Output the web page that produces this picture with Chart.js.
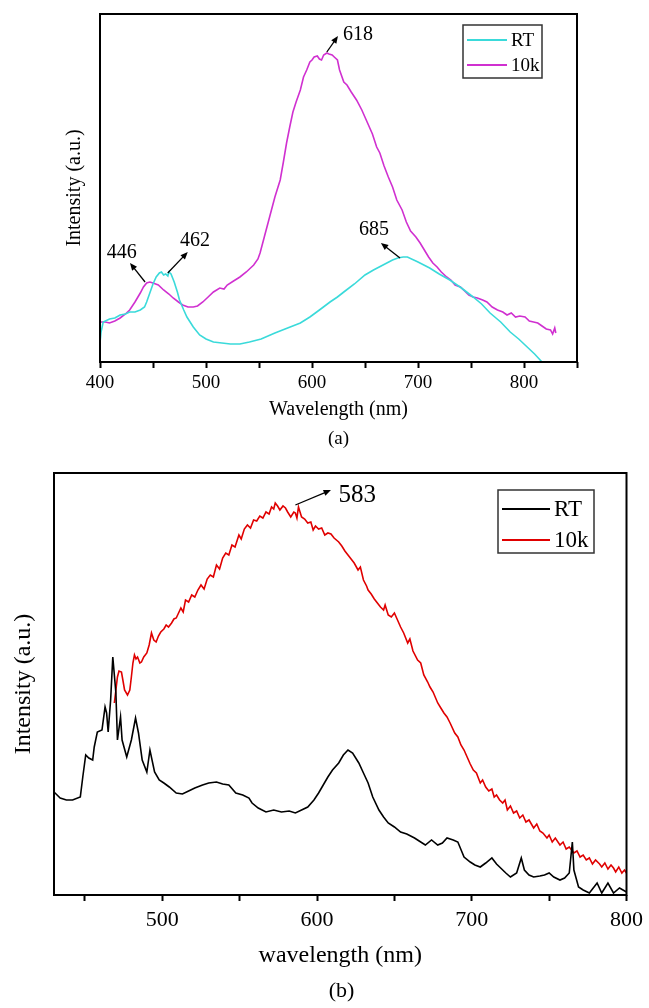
<!DOCTYPE html>
<html>
<head>
<meta charset="utf-8">
<script src="https://cdn.jsdelivr.net/npm/chart.js@4.4.0/dist/chart.umd.min.js"></script>
<style>
  html, body { margin: 0; padding: 0; background: #fff; }
  body { width: 649px; height: 1008px; position: relative; overflow: hidden; font-family: "Liberation Serif", "DejaVu Serif", serif; color: #000; }
  canvas { position: absolute; left: 0; }
  #chartA { top: 0; }
  #chartB { top: 450px; }
  .cap { position: absolute; left: 0; width: 100%; text-align: center; line-height: 1; }
  #capA { top: 428px; font-size: 19px; padding-left: 28px; box-sizing: border-box; }
  #capB { top: 979px; font-size: 22px; padding-left: 34px; box-sizing: border-box; }
</style>
</head>
<body>
<canvas id="chartA" width="649" height="450"></canvas>
<canvas id="chartB" width="649" height="558"></canvas>
<div class="cap" id="capA">(a)</div>
<div class="cap" id="capB">(b)</div>

<script>
// ---- panel (a) data : wavelength (nm) / intensity (a.u.) ----
const waveA_RT = [400, 401, 403, 409, 414, 419, 424, 428, 433, 438, 442, 444, 447, 450, 453, 456, 458, 460, 462, 464, 465, 467, 470, 473, 475, 479, 482, 488, 494, 500, 507, 515, 523, 532, 541, 552, 565, 577, 589, 598, 607, 617, 624, 630, 640, 650, 658, 667, 676, 681, 686, 690, 700, 711, 720, 730, 741, 752, 760, 768, 778, 787, 795, 803, 810, 817];
const intA_RT  = [19, 30, 40, 43, 44, 47, 48, 50, 50, 52, 55, 60, 69, 78, 85, 89, 90, 87, 88, 86, 90, 88, 80, 70, 62, 52, 45, 35, 27, 23, 20, 19, 18, 18, 20, 23, 29, 34, 39, 45, 52, 60, 65, 70, 78, 87, 92, 97, 102, 104, 105, 105, 100, 94, 88, 82, 74, 65, 58, 49, 40, 30, 23, 15, 8, 0];

const waveA_10k = [400, 405, 409, 414, 419, 424, 428, 433, 438, 441, 444, 447, 450, 455, 460, 465, 469, 474, 478, 483, 488, 492, 497, 502, 507, 513, 517, 520, 526, 532, 538, 545, 549, 551, 555, 560, 565, 570, 573, 576, 579, 582, 585, 589, 592, 595, 598, 600, 602, 605, 607, 609, 611, 614, 616, 619, 621, 624, 626, 630, 633, 637, 642, 647, 652, 657, 661, 664, 668, 672, 676, 680, 685, 689, 693, 698, 702, 706, 710, 714, 718, 722, 727, 731, 735, 740, 744, 748, 752, 756, 761, 765, 770, 775, 780, 784, 788, 792, 796, 801, 805, 809, 813, 817, 821, 825, 827, 829, 830];
const intA_10k  = [40, 40, 39, 41, 44, 48, 52, 60, 69, 75, 79, 80, 79, 77, 72, 68, 64, 60, 57, 55, 55, 56, 60, 65, 70, 74, 73, 77, 81, 85, 90, 97, 103, 109, 125, 145, 165, 182, 200, 219, 235, 250, 260, 272, 285, 292, 300, 302, 305, 306, 303, 302, 307, 309, 308, 307, 305, 302, 292, 280, 277, 270, 262, 252, 240, 228, 215, 209, 196, 185, 175, 162, 152, 140, 131, 125, 119, 112, 105, 99, 95, 90, 85, 82, 77, 75, 71, 67, 65, 64, 62, 60, 55, 52, 50, 47, 49, 45, 46, 45, 41, 40, 39, 36, 33, 32, 28, 34, 29];

const ticksA  = [400, 450, 500, 550, 600, 650, 700, 750, 800, 850];
const labelsA = [400, 500, 600, 700, 800];

// ---- panel (b) data ----
const waveB_RT = [430, 434, 438, 442, 447, 448.6, 450.5, 452.5, 455, 456, 458, 461, 463, 464, 465, 466.6, 468, 470, 471, 473, 474, 477, 480, 482.7, 484.6, 487, 490, 492, 495, 498, 501, 504.5, 509, 513, 517, 521, 526, 530, 535, 539, 543, 547.5, 552, 556, 558, 562, 567, 572, 577, 582, 586, 590, 594, 598, 601, 604, 607, 610, 614, 617, 620, 623, 627, 630, 633, 636, 640, 643, 646, 650, 654, 658, 663, 666, 670, 674, 678, 681, 684, 688, 691, 695, 699, 702, 705.5, 709, 713, 716, 718, 722, 725, 729, 732, 734, 737, 740, 744, 747, 750, 753, 757, 760, 763, 765, 766, 769, 772, 776, 781, 784, 788, 791.6, 795.5, 800];
const intB_RT  = [103, 97, 95, 95, 98, 118, 140, 137, 135, 148, 163, 165, 188, 182, 163, 195, 238, 202, 155, 178, 155, 138, 155, 177, 162, 135, 123, 145, 123, 115, 112, 108, 102, 101, 104, 107, 110, 112, 113, 111, 110, 102, 100, 97, 92, 87, 83, 85, 83, 84, 82, 85, 88, 95, 102, 110, 118, 125, 132, 140, 145, 142, 132, 122, 112, 98, 85, 78, 72, 68, 63, 61, 57, 54, 50, 55, 50, 52, 57, 55, 53, 38, 33, 30, 28, 32, 37, 31, 28, 22, 18, 22, 37, 25, 20, 18, 19, 20, 22, 18, 15, 17, 22, 53, 25, 8, 5, 2, 12, 2, 12, 2, 7, 3];

const waveB_10k = [469, 470, 471, 472, 473.6, 474.5, 475.6, 477.5, 479, 480, 481, 482, 483, 484, 485.5, 486.5, 488, 490, 491.5, 493, 494.5, 496, 497.5, 499, 501, 502.5, 504, 506, 507.5, 509, 510.5, 512, 513.5, 515, 517, 519, 521, 523, 525, 527, 529, 531, 533, 535, 537, 539, 541, 543, 545, 547, 549.5, 551, 553, 555, 557, 559, 561, 563, 565, 567, 569, 570.6, 572, 573, 574.5, 576, 578, 579.6, 581, 583, 585, 586, 587, 588, 589, 590, 592, 594, 596, 597.5, 599, 601, 603, 605, 607, 609, 611, 614, 616, 618, 620, 622, 624, 626.5, 628, 630, 632, 633, 635, 637, 639, 641, 643, 644, 646, 648, 650, 652, 654, 656, 658.6, 660, 662, 665, 667, 669, 671.5, 673, 675, 678, 680, 682, 684, 686, 689, 691, 693, 695, 697, 699, 701, 703, 705.5, 707, 709, 711, 713, 714.5, 716, 718, 720, 721.5, 723, 725, 727, 729, 731, 733, 735, 737, 740, 742, 744, 746, 748.6, 750, 752, 754, 757, 759, 761, 763, 766, 768, 770, 772, 774, 776, 778, 780, 782.6, 784, 786, 788, 790, 791.6, 793, 795, 797, 798.7, 800];
const intB_10k  = [192, 205, 218, 224, 223, 215, 205, 200, 205, 218, 232, 240, 236, 238, 232, 233, 238, 242, 250, 262, 255, 253, 259, 263, 266, 270, 268, 272, 276, 277, 282, 287, 283, 295, 293, 300, 298, 305, 310, 306, 316, 320, 318, 330, 326, 337, 342, 340, 350, 348, 360, 356, 366, 370, 367, 375, 374, 379, 377, 383, 381, 388, 386, 392, 389, 385, 389, 387, 383, 378, 383, 382, 377, 388, 383, 378, 376, 372, 373, 365, 369, 366, 367, 360, 362, 361, 357, 353, 349, 344, 340, 336, 332, 325, 328, 315, 309, 305, 301, 296, 292, 288, 285, 290, 280, 278, 282, 275, 268, 262, 252, 256, 244, 235, 232, 220, 213, 208, 203, 192, 187, 182, 178, 172, 162, 158, 150, 145, 138, 131, 125, 122, 112, 115, 108, 104, 106, 98, 100, 95, 92, 95, 85, 89, 82, 84, 77, 80, 73, 75, 67, 71, 64, 62, 57, 60, 53, 57, 50, 53, 46, 48, 42, 44, 38, 40, 35, 37, 31, 35, 31, 28, 32, 26, 30, 27, 23, 28, 22, 25, 22];

const ticksB  = [450, 500, 550, 600, 650, 700, 750, 800];
const labelsB = [500, 600, 700, 800];

// peak labels: text, text position, arrow tail -> head (data units)
const peaksA = [
    { text: '446', tx: 420.5, ty: 109, x1: 442.5, y1: 80, x2: 428.3, y2: 99 },
    { text: '462', tx: 489.6, ty: 121, x1: 463.9, y1: 89, x2: 482.8, y2: 110 },
    { text: '618', tx: 643.4, ty: 327, x1: 614, y1: 310, x2: 624.5, y2: 326 },
    { text: '685', tx: 658.5, ty: 132, x1: 683, y1: 104, x2: 665, y2: 119 }
];
const peaksB = [
    { text: '583', tx: 626, ty: 400, x1: 586, y1: 390, x2: 609, y2: 405 }
];

const toPoints = (xs, ys) => xs.map((x, i) => ({ x: x, y: ys[i] }));

// frame, legend and peak arrows
const figureDecor = {
    id: 'figureDecor',
    afterDatasetsDraw(chart, args, opts) {
        const { ctx, chartArea: a, scales } = chart;
        ctx.save();
        ctx.strokeStyle = '#000';
        ctx.lineWidth = 2;
        ctx.strokeRect(a.left, a.top, a.right - a.left, a.bottom - a.top);

        // peak labels with arrows
        ctx.fillStyle = '#000';
        ctx.font = opts.peakFont;
        ctx.textAlign = 'center';
        ctx.textBaseline = 'middle';
        (opts.peaks || []).forEach(p => {
            ctx.fillText(p.text, scales.x.getPixelForValue(p.tx), scales.y.getPixelForValue(p.ty));
            const x1 = scales.x.getPixelForValue(p.x1), y1 = scales.y.getPixelForValue(p.y1);
            const x2 = scales.x.getPixelForValue(p.x2), y2 = scales.y.getPixelForValue(p.y2);
            const ang = Math.atan2(y2 - y1, x2 - x1);
            ctx.lineWidth = 1.3;
            ctx.beginPath(); ctx.moveTo(x1, y1); ctx.lineTo(x2 - 4 * Math.cos(ang), y2 - 4 * Math.sin(ang)); ctx.stroke();
            ctx.beginPath();
            ctx.moveTo(x2, y2);
            ctx.lineTo(x2 - 8 * Math.cos(ang - 0.4), y2 - 8 * Math.sin(ang - 0.4));
            ctx.lineTo(x2 - 8 * Math.cos(ang + 0.4), y2 - 8 * Math.sin(ang + 0.4));
            ctx.closePath(); ctx.fill();
        });

        // legend box
        const L = opts.legend;
        ctx.lineWidth = 1.5;
        ctx.strokeStyle = '#333';
        ctx.strokeRect(L.x, L.y, L.w, L.h);
        ctx.font = L.font;
        ctx.textAlign = 'left';
        chart.data.datasets.forEach((ds, i) => {
            const yy = L.y + L.rows[i];
            ctx.strokeStyle = ds.borderColor;
            ctx.lineWidth = 2;
            ctx.beginPath(); ctx.moveTo(L.x + 4, yy); ctx.lineTo(L.x + 4 + L.line, yy); ctx.stroke();
            ctx.fillStyle = '#000';
            ctx.fillText(ds.label, L.x + 8 + L.line, yy + 1);
        });
        ctx.restore();
    }
};

function buildPanel(canvasId, p) {
    const ctx = document.getElementById(canvasId).getContext('2d');
    const W = ctx.canvas.width, H = ctx.canvas.height;
    const tickFont = { family: 'Liberation Serif', size: p.tickSize };
    const titleFont = { family: 'Liberation Serif', size: p.titleSize };
    try {
        return new Chart(ctx, {
            type: 'line',
            data: {
                datasets: p.series.map(s => ({
                    label: s.label,
                    data: toPoints(s.xs, s.ys),
                    borderColor: s.color,
                    backgroundColor: s.color,
                    borderWidth: 1.6,
                    pointRadius: 0,
                    tension: 0,
                    fill: false
                }))
            },
            options: {
                responsive: false,
                animation: false,
                layout: { padding: { left: 0, top: p.box.top, right: W - p.box.right, bottom: 0 } },
                scales: {
                    x: {
                        type: 'linear', min: p.xMin, max: p.xMax,
                        afterBuildTicks: axis => { axis.ticks = p.ticks.map(v => ({ value: v })); },
                        afterFit: axis => { axis.height = H - p.box.bottom; },
                        ticks: {
                            autoSkip: false, maxRotation: 0, color: '#000', font: tickFont, padding: p.tickPad,
                            callback: v => p.labels.includes(v) ? String(v) : ''
                        },
                        grid: { display: true, drawOnChartArea: false, drawTicks: true, tickLength: 6, tickWidth: 2, tickColor: '#000' },
                        border: { display: false },
                        title: { display: true, text: p.xTitle, color: '#000', font: titleFont, padding: { top: 0, bottom: p.xTitlePad } }
                    },
                    y: {
                        min: 0, max: p.yMax,
                        afterFit: axis => { axis.width = p.box.left; },
                        ticks: { display: false },
                        grid: { display: false },
                        border: { display: false },
                        title: { display: true, text: 'Intensity (a.u.)', color: '#000', font: titleFont, padding: { top: p.yTitlePad, bottom: 0 } }
                    }
                },
                plugins: {
                    legend: { display: false },
                    tooltip: { enabled: false },
                    figureDecor: { peaks: p.peaks, peakFont: p.peakFont, legend: p.legend }
                }
            },
            plugins: [figureDecor]
        });
    } catch (e) { console.error('chart error', canvasId, e); }
}

buildPanel('chartA', {
    series: [
        { label: 'RT', xs: waveA_RT, ys: intA_RT, color: '#3ADADA' },
        { label: '10k', xs: waveA_10k, ys: intA_10k, color: '#D030D0' }
    ],
    box: { left: 100, right: 577, top: 14, bottom: 362 },
    xMin: 400, xMax: 850, yMax: 348,
    ticks: ticksA, labels: labelsA,
    xTitle: 'Wavelength (nm)',
    tickSize: 19, titleSize: 20, tickPad: 4, xTitlePad: 28, yTitlePad: 63,
    peaks: peaksA, peakFont: '20px "Liberation Serif"',
    legend: { x: 463, y: 25, w: 79, h: 53, line: 40, rows: [15, 40], font: '19px "Liberation Serif"' }
});

buildPanel('chartB', {
    series: [
        { label: 'RT', xs: waveB_RT, ys: intB_RT, color: '#000000' },
        { label: '10k', xs: waveB_10k, ys: intB_10k, color: '#E00000' }
    ],
    box: { left: 54, right: 630, top: 23, bottom: 445 },
    xMin: 430, xMax: 800, yMax: 422,
    ticks: ticksB, labels: labelsB,
    xTitle: 'wavelength (nm)',
    tickSize: 22, titleSize: 24, tickPad: 6, xTitlePad: 38, yTitlePad: 9,
    peaks: peaksB, peakFont: '25px "Liberation Serif"',
    legend: { x: 498, y: 40, w: 96, h: 63, line: 48, rows: [19, 50], font: '23px "Liberation Serif"' }
});
</script>
</body>
</html>
